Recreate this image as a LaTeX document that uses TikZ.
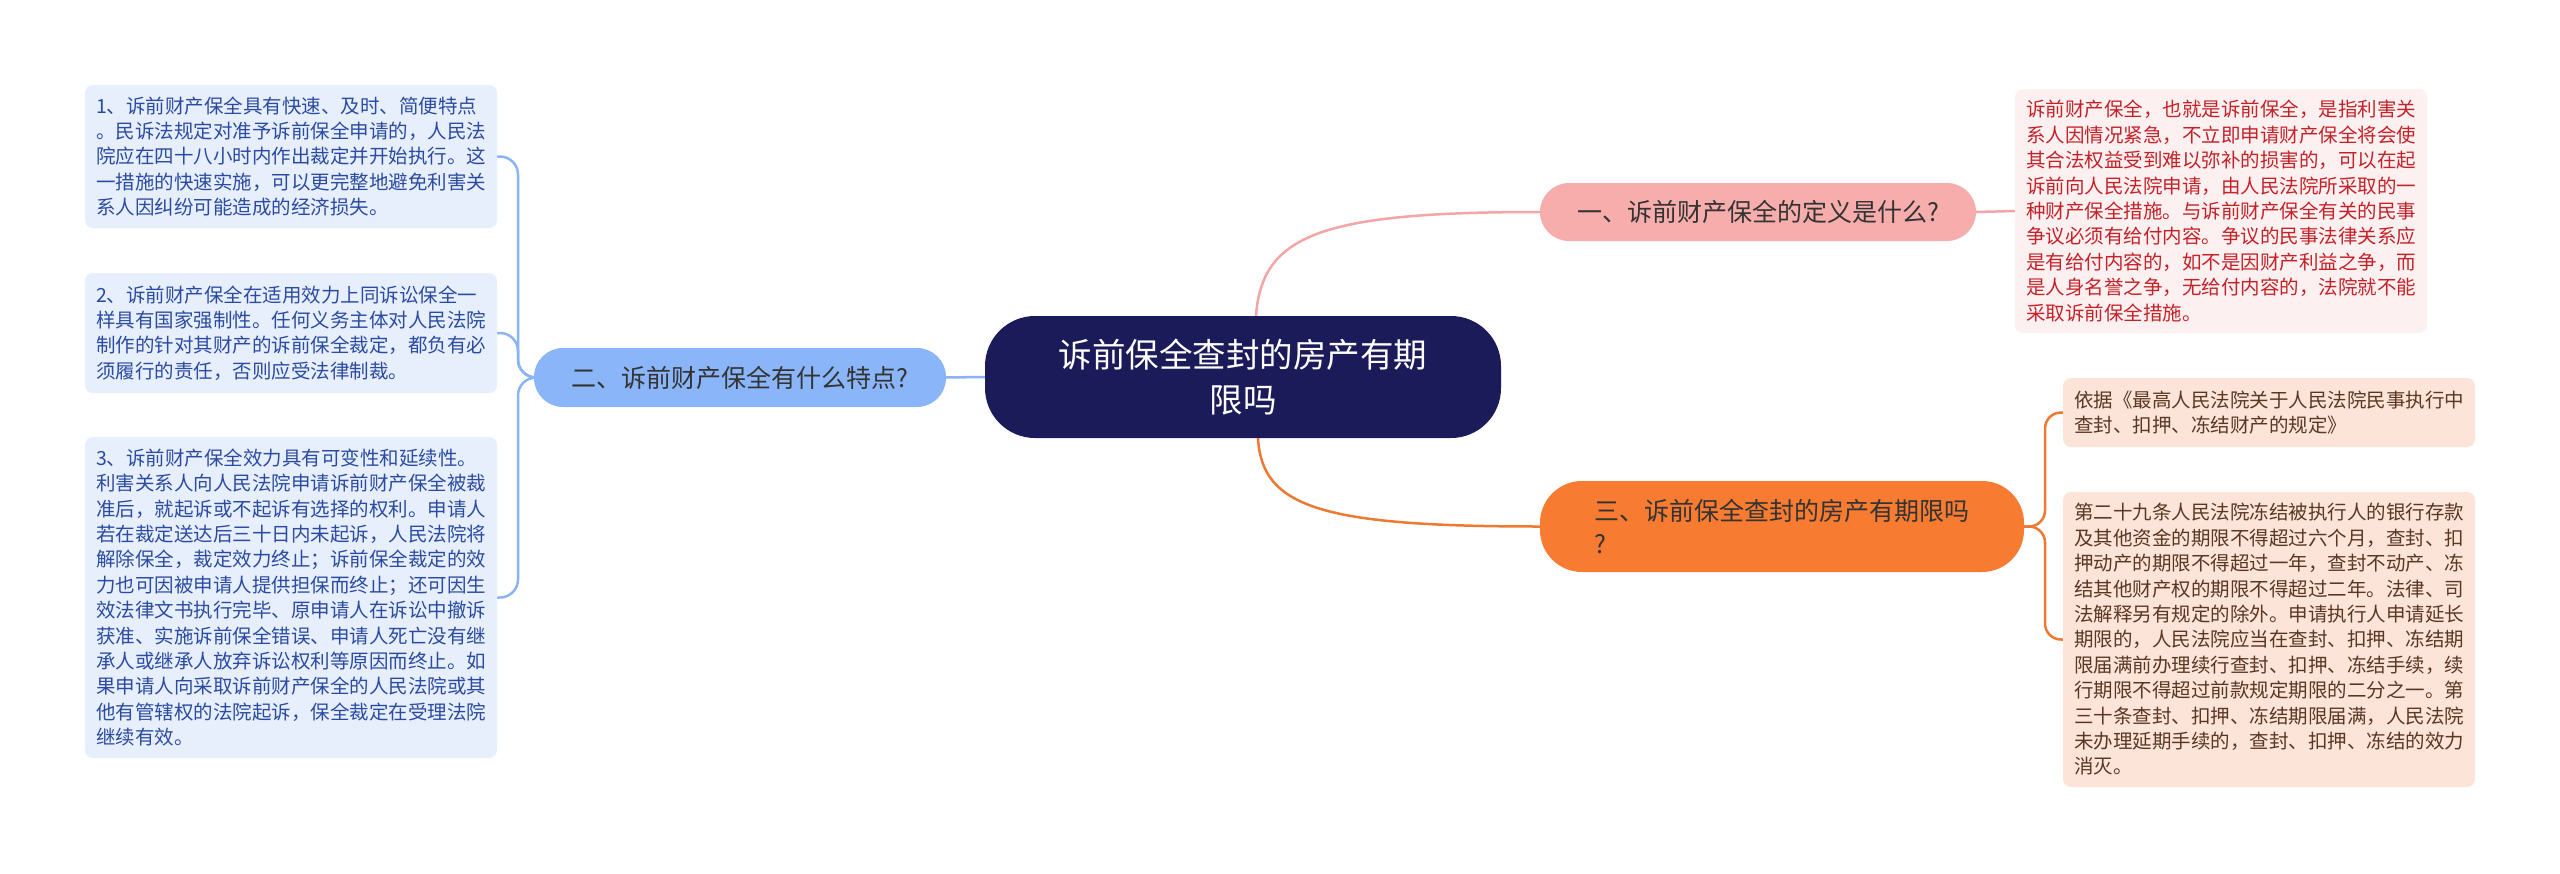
\documentclass[tikz,border=0pt]{standalone}
\usepackage{fontspec}
\setmainfont{Noto Sans CJK SC}
\usetikzlibrary{calc}
\definecolor{navy}{HTML}{1C1B5A}
\definecolor{bluebr}{HTML}{8BB5F9}
\definecolor{blueln}{HTML}{8AB4F8}
\definecolor{blueleaf}{HTML}{E7EFFC}
\definecolor{bluetext}{HTML}{2B4BA3}
\definecolor{pinkbr}{HTML}{F8ADAD}
\definecolor{pinkln}{HTML}{F4A5A5}
\definecolor{pinkleaf}{HTML}{FDF0F0}
\definecolor{redtext}{HTML}{C42229}
\definecolor{orangebr}{HTML}{F77B30}
\definecolor{orangeln}{HTML}{EE7A32}
\definecolor{peachleaf}{HTML}{FCE5D8}
\definecolor{browntext}{HTML}{5A3723}
\definecolor{brtext}{HTML}{333333}
\pgfdeclarelayer{bgl}
\pgfdeclarelayer{edges}
\pgfsetlayers{bgl,edges,main}
\begin{document}
\begin{tikzpicture}[x=1pt,y=-1pt,
  leafbox/.style={rounded corners=8pt, inner sep=0pt, align=left,
    font=\fontsize{19.5}{25.4}\selectfont, minimum width=412pt},
  bleaf/.style={leafbox, fill=blueleaf, text=bluetext},
  rleaf/.style={leafbox, fill=pinkleaf, text=redtext},
  oleaf/.style={leafbox, fill=peachleaf, text=browntext},
  branchbox/.style={inner sep=0pt, font=\fontsize{25}{33}\selectfont},
  centerbox/.style={fill=navy, text=white, rounded corners=50pt, inner sep=0pt,
    align=center, font=\fontsize{33.5}{45}\selectfont,
    minimum width=516pt, minimum height=122pt},
  conn/.style={line width=2.5pt},
]
\begin{pgfonlayer}{bgl}
\fill[white] (0,0) rectangle (2560,873);
\end{pgfonlayer}
\useasboundingbox (0,0) rectangle (2560,873);

% center
\node[centerbox] (c) at (1243,377) {诉前保全查封的房产有期\\限吗};

% branches
\node[branchbox, fill=bluebr, text=brtext, rounded corners=29pt,
  minimum width=412pt, minimum height=59pt] (b2) at (740,377.5)
  {二、诉前财产保全有什么特点?};
\node[branchbox, fill=pinkbr, text=brtext, rounded corners=29pt,
  minimum width=436pt, minimum height=58pt] (b1) at (1758,212)
  {一、诉前财产保全的定义是什么?};
\node[branchbox, fill=orangebr, text=brtext, rounded corners=42pt, align=left,
  minimum width=484pt, minimum height=91pt] (b3) at (1782,526.5)
  {三、诉前保全查封的房产有期限吗\\?};

% left leaves
\node[bleaf, minimum height=143pt] (l1) at (291,156.5)
  {1、诉前财产保全具有快速、及时、简便特点\\
   。民诉法规定对准予诉前保全申请的，人民法\\
   院应在四十八小时内作出裁定并开始执行。这\\
   一措施的快速实施，可以更完整地避免利害关\\
   系人因纠纷可能造成的经济损失。};
\node[bleaf, minimum height=120pt] (l2) at (291,333)
  {2、诉前财产保全在适用效力上同诉讼保全一\\
   样具有国家强制性。任何义务主体对人民法院\\
   制作的针对其财产的诉前保全裁定，都负有必\\
   须履行的责任，否则应受法律制裁。};
\node[bleaf, minimum height=321pt] (l3) at (291,597.5)
  {3、诉前财产保全效力具有可变性和延续性。\\
   利害关系人向人民法院申请诉前财产保全被裁\\
   准后，就起诉或不起诉有选择的权利。申请人\\
   若在裁定送达后三十日内未起诉，人民法院将\\
   解除保全，裁定效力终止；诉前保全裁定的效\\
   力也可因被申请人提供担保而终止；还可因生\\
   效法律文书执行完毕、原申请人在诉讼中撤诉\\
   获准、实施诉前保全错误、申请人死亡没有继\\
   承人或继承人放弃诉讼权利等原因而终止。如\\
   果申请人向采取诉前财产保全的人民法院或其\\
   他有管辖权的法院起诉，保全裁定在受理法院\\
   继续有效。};

% right leaves
\node[rleaf, minimum height=244pt] (r1) at (2221,211)
  {诉前财产保全，也就是诉前保全，是指利害关\\
   系人因情况紧急，不立即申请财产保全将会使\\
   其合法权益受到难以弥补的损害的，可以在起\\
   诉前向人民法院申请，由人民法院所采取的一\\
   种财产保全措施。与诉前财产保全有关的民事\\
   争议必须有给付内容。争议的民事法律关系应\\
   是有给付内容的，如不是因财产利益之争，而\\
   是人身名誉之争，无给付内容的，法院就不能\\
   采取诉前保全措施。};
\node[oleaf, minimum height=69pt] (r3a) at (2269,412.5)
  {依据《最高人民法院关于人民法院民事执行中\\
   查封、扣押、冻结财产的规定》};
\node[oleaf, minimum height=295pt] (r3b) at (2269,639.5)
  {第二十九条人民法院冻结被执行人的银行存款\\
   及其他资金的期限不得超过六个月，查封、扣\\
   押动产的期限不得超过一年，查封不动产、冻\\
   结其他财产权的期限不得超过二年。法律、司\\
   法解释另有规定的除外。申请执行人申请延长\\
   期限的，人民法院应当在查封、扣押、冻结期\\
   限届满前办理续行查封、扣押、冻结手续，续\\
   行期限不得超过前款规定期限的二分之一。第\\
   三十条查封、扣押、冻结期限届满，人民法院\\
   未办理延期手续的，查封、扣押、冻结的效力\\
   消灭。};

\coordinate (lj) at (518,377.5);
\coordinate (rj) at (2045,526.5);

\begin{pgfonlayer}{edges}
\draw[conn, blueln] (c.west) -- (b2.east);
\draw[conn, blueln, rounded corners=18pt] (b2.west) -- (lj) |- (l1.east);
\draw[conn, blueln, rounded corners=18pt] (b2.west) -- (lj) |- (l2.east);
\draw[conn, blueln, rounded corners=18pt] (b2.west) -- (lj) |- (l3.east);
\draw[conn, pinkln] ($(c.north)+(13,0)$) .. controls (1262,235) and (1320,212) .. (b1.west);
\draw[conn, pinkln] (b1.east) -- (r1.west);
\draw[conn, orangeln] ($(c.south)+(15,0)$) .. controls (1262,507) and (1320,526.5) .. (b3.west);
\draw[conn, orangeln, rounded corners=16pt] (b3.east) -- (rj) |- (r3a.west);
\draw[conn, orangeln, rounded corners=16pt] (b3.east) -- (rj) |- (r3b.west);
\end{pgfonlayer}
\end{tikzpicture}
\end{document}
